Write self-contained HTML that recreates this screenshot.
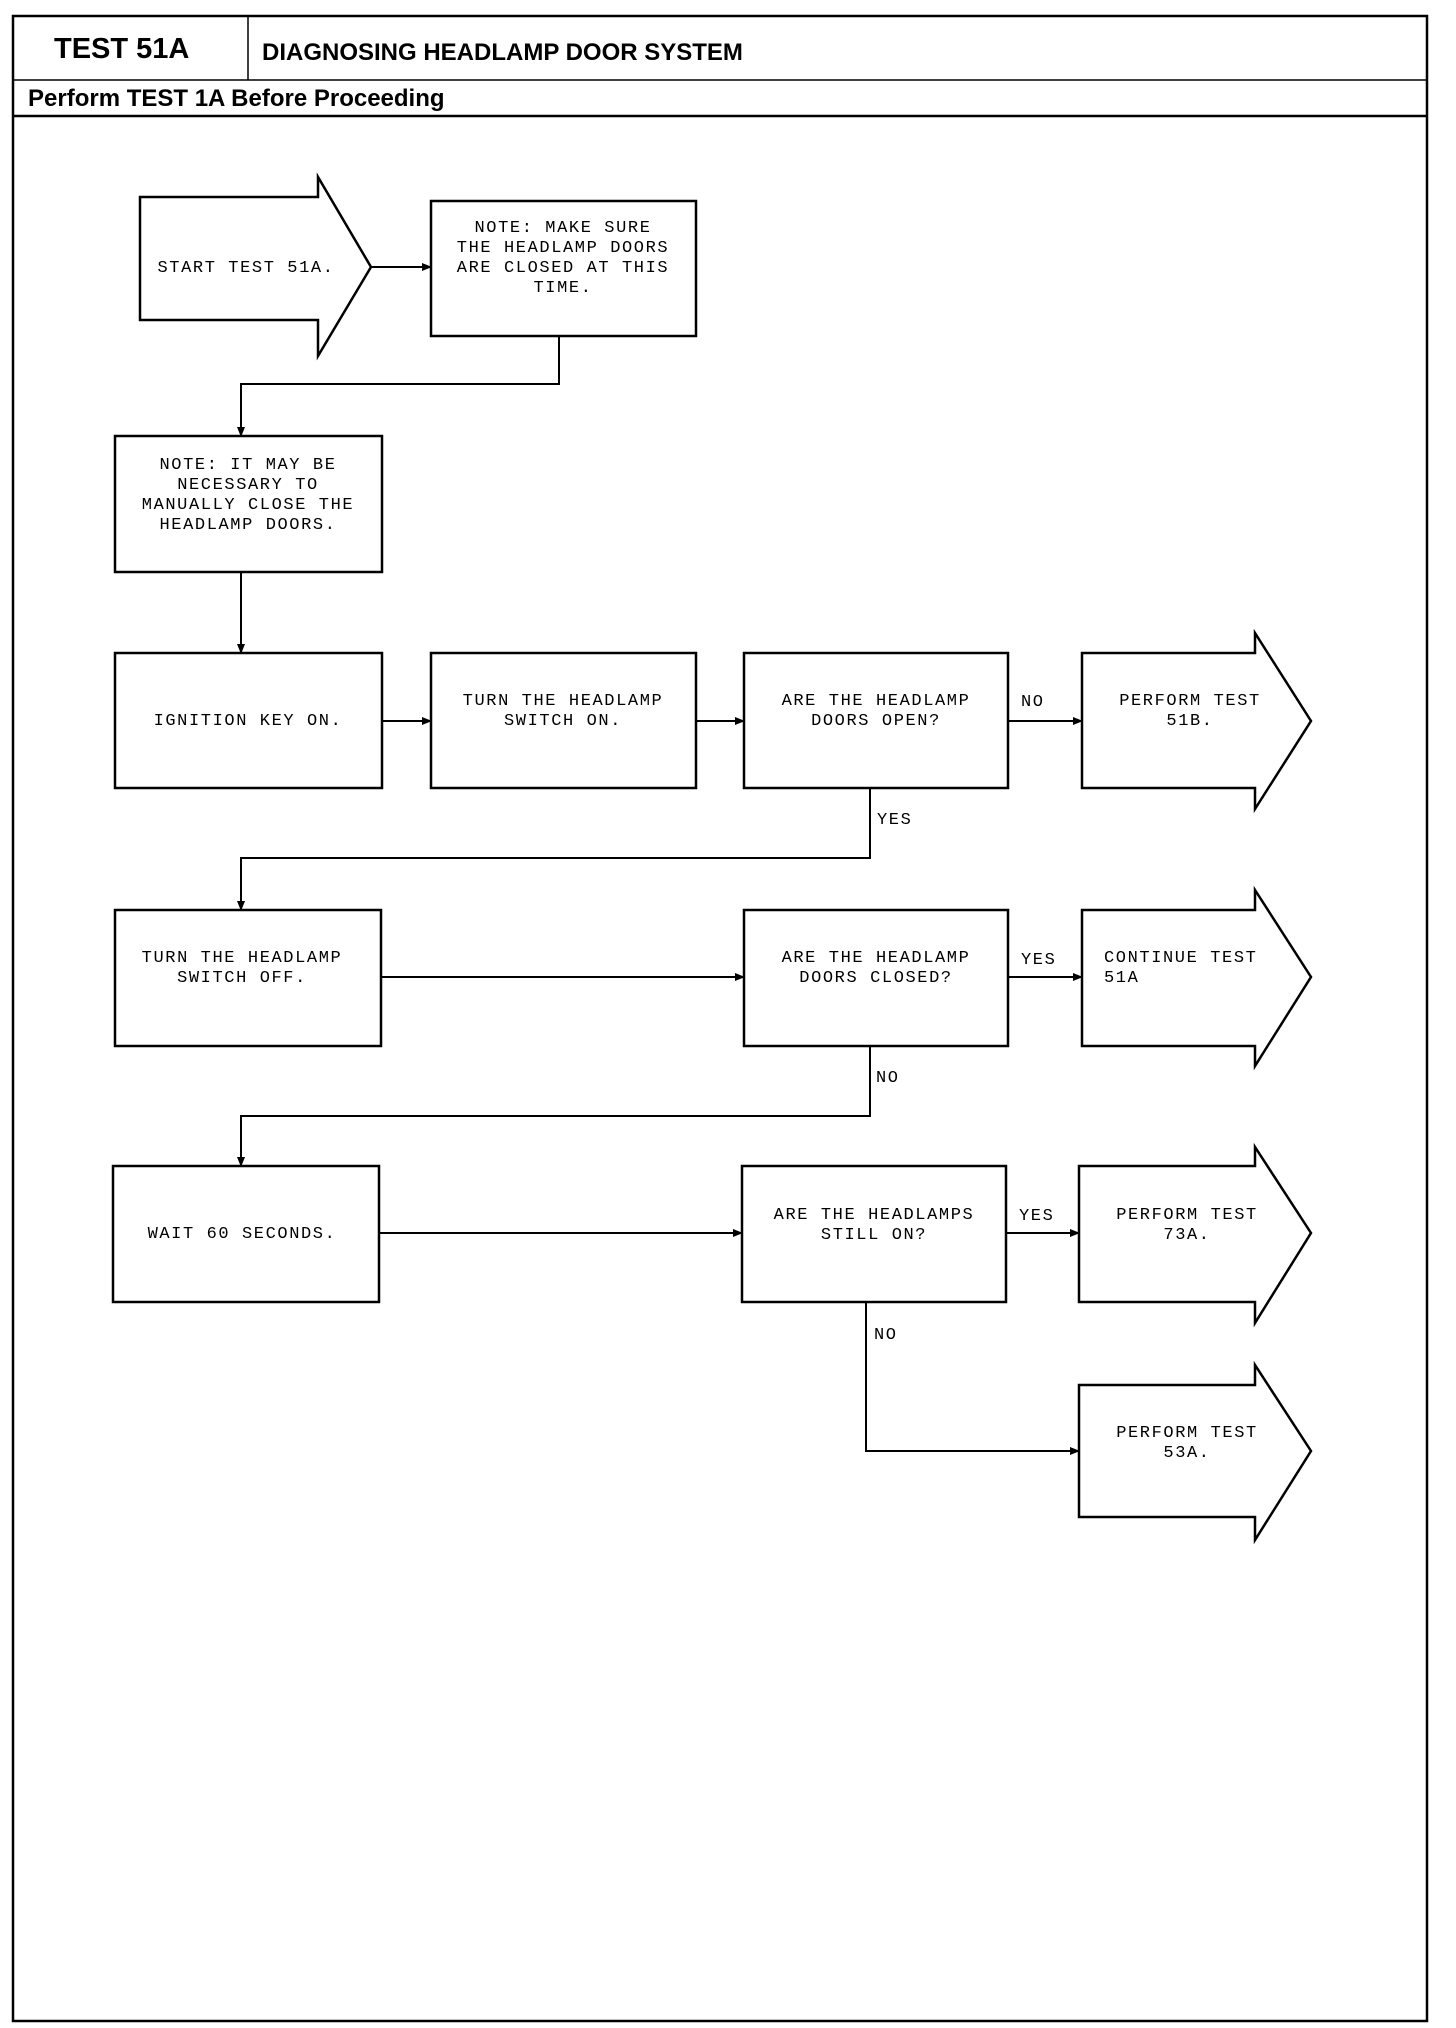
<!DOCTYPE html>
<html><head><meta charset="utf-8"><style>
html,body{margin:0;padding:0;background:#fff;}
svg{display:block;}
.t{font-family:"Liberation Mono",monospace;font-size:17px;letter-spacing:1.6px;fill:#000;}
.h{font-family:"Liberation Sans",sans-serif;font-weight:bold;fill:#000;}
</style></head><body>
<svg width="1456" height="2028" viewBox="0 0 1456 2028" xmlns="http://www.w3.org/2000/svg">
<defs><marker id="a" markerWidth="10" markerHeight="8" refX="9" refY="4" orient="auto" markerUnits="userSpaceOnUse"><path d="M0,0 L10,4 L0,8 z" fill="#000"/></marker></defs>
<g fill="none" stroke="#000" stroke-width="2.5">
<rect x="13" y="16" width="1414" height="2005"/>
<line x1="13" y1="80" x2="1427" y2="80" stroke-width="1.5"/>
<line x1="248" y1="16" x2="248" y2="80" stroke-width="1.5"/>
<line x1="13" y1="116" x2="1427" y2="116"/>
<!-- start arrow -->
<path d="M140,197 L318,197 L318,177 L371,267 L318,356 L318,320 L140,320 Z"/>
<rect x="431" y="201" width="265" height="135"/>
<rect x="115" y="436" width="267" height="136"/>
<rect x="115" y="653" width="267" height="135"/>
<rect x="431" y="653" width="265" height="135"/>
<rect x="744" y="653" width="264" height="135"/>
<path d="M1082,653 L1255,653 L1255,633 L1311,721 L1255,809 L1255,788 L1082,788 Z"/>
<rect x="115" y="910" width="266" height="136"/>
<rect x="744" y="910" width="264" height="136"/>
<path d="M1082,910 L1255,910 L1255,890 L1311,977 L1255,1066 L1255,1046 L1082,1046 Z"/>
<rect x="113" y="1166" width="266" height="136"/>
<rect x="742" y="1166" width="264" height="136"/>
<path d="M1079,1166 L1255,1166 L1255,1147 L1311,1233 L1255,1323 L1255,1302 L1079,1302 Z"/>
<path d="M1079,1385 L1255,1385 L1255,1365 L1311,1451 L1255,1540 L1255,1517 L1079,1517 Z"/>
</g>
<g fill="none" stroke="#000" stroke-width="2" marker-end="url(#a)">
<line x1="371" y1="267" x2="431" y2="267"/>
<polyline points="559,336 559,384 241,384 241,436"/>
<line x1="241" y1="572" x2="241" y2="653"/>
<line x1="382" y1="721" x2="431" y2="721"/>
<line x1="696" y1="721" x2="744" y2="721"/>
<line x1="1008" y1="721" x2="1082" y2="721"/>
<polyline points="870,788 870,858 241,858 241,910"/>
<line x1="381" y1="977" x2="744" y2="977"/>
<line x1="1008" y1="977" x2="1082" y2="977"/>
<polyline points="870,1046 870,1116 241,1116 241,1166"/>
<line x1="379" y1="1233" x2="742" y2="1233"/>
<line x1="1006" y1="1233" x2="1079" y2="1233"/>
<polyline points="866,1302 866,1451 1079,1451"/>
</g>
<text class="h" x="54" y="58" font-size="29">TEST 51A</text>
<text class="h" x="262" y="60" font-size="24">DIAGNOSING HEADLAMP DOOR SYSTEM</text>
<text class="h" x="28" y="106" font-size="24">Perform TEST 1A Before Proceeding</text>
<g class="t" text-anchor="middle">
<text x="246" y="272">START TEST 51A.</text>
<text x="563" y="232">NOTE:  MAKE SURE</text>
<text x="563" y="252">THE HEADLAMP DOORS</text>
<text x="563" y="272">ARE CLOSED AT THIS</text>
<text x="563" y="292">TIME.</text>
<text x="248" y="469">NOTE:  IT MAY BE</text>
<text x="248" y="489">NECESSARY TO</text>
<text x="248" y="509">MANUALLY CLOSE THE</text>
<text x="248" y="529">HEADLAMP DOORS.</text>
<text x="248" y="725">IGNITION KEY ON.</text>
<text x="563" y="705">TURN THE HEADLAMP</text>
<text x="563" y="725">SWITCH ON.</text>
<text x="876" y="705">ARE THE HEADLAMP</text>
<text x="876" y="725">DOORS OPEN?</text>
<text x="1190" y="705">PERFORM TEST</text>
<text x="1190" y="725">51B.</text>
<text x="242" y="962">TURN THE HEADLAMP</text>
<text x="242" y="982">SWITCH OFF.</text>
<text x="876" y="962">ARE THE HEADLAMP</text>
<text x="876" y="982">DOORS CLOSED?</text>
<text x="242" y="1238">WAIT 60 SECONDS.</text>
<text x="874" y="1219">ARE THE HEADLAMPS</text>
<text x="874" y="1239">STILL ON?</text>
<text x="1187" y="1219">PERFORM TEST</text>
<text x="1187" y="1239">73A.</text>
<text x="1187" y="1437">PERFORM TEST</text>
<text x="1187" y="1457">53A.</text>
</g>
<g class="t">
<text x="1104" y="962">CONTINUE TEST</text>
<text x="1104" y="982">51A</text>
<text x="1021" y="706">NO</text>
<text x="877" y="824">YES</text>
<text x="1021" y="964">YES</text>
<text x="876" y="1082">NO</text>
<text x="1019" y="1220">YES</text>
<text x="874" y="1339">NO</text>
</g>
</svg>
</body></html>
